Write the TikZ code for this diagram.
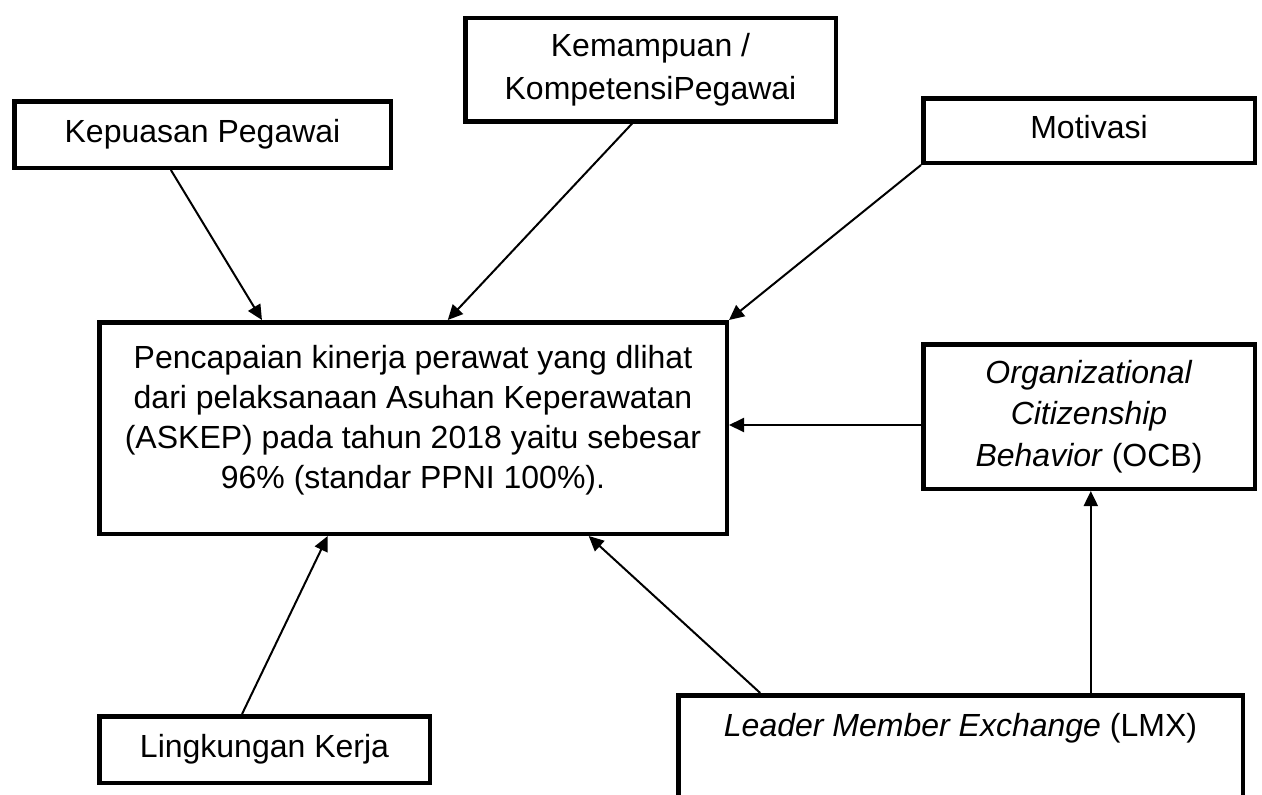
\documentclass[tikz,border=0pt]{standalone}
\usepackage{fontspec}
\setmainfont{Liberation Sans}
\usetikzlibrary{arrows.meta,calc}
\begin{document}
\begin{tikzpicture}[x=0.5pt,y=-0.5pt,
  box/.style={draw=black, line width=2.25pt, inner sep=0pt, align=center, font=\fontsize{16}{20}\selectfont},
  oneline/.style={text height=14pt, text depth=6pt},
  arr/.style={draw=black, line width=1pt, -{Triangle[length=7.5pt,width=7pt]}},
  lbl/.style={inner sep=0pt, align=center, font=\fontsize{16}{20}\selectfont}]
\useasboundingbox (0,0) rectangle (1262,794);
\clip (0,0) rectangle (1262,794);
\fill[white] (0,0) rectangle (1262,794);

\node[box, oneline, minimum width=188.25pt, minimum height=33.25pt] (kep) at (202.5,134.5) {Kepuasan Pegawai};
\node[box, minimum width=185.25pt, minimum height=51.75pt, font=\fontsize{16}{21.5}\selectfont] (kem) at (650.5,69.5) {Kemampuan /\\KompetensiPegawai};
\node[box, oneline, minimum width=165.75pt, minimum height=32.25pt] (mot) at (1089,130.5) {Motivasi};
\node[box, minimum width=313.75pt, minimum height=105.75pt] (main) at (413,428) {};
\node[lbl] (mainlbl) at (413,420) {Pencapaian kinerja perawat yang dlihat\\dari pelaksanaan Asuhan Keperawatan\\(ASKEP) pada tahun 2018 yaitu sebesar\\96\% (standar PPNI 100\%).};
\node[box, minimum width=165.75pt, minimum height=72.25pt, font=\fontsize{16}{20.75}\selectfont] (ocb) at (1089,416.5) {\textit{Organizational}\\\textit{Citizenship}\\\textit{Behavior} (OCB)};
\node[box, oneline, minimum width=165.25pt, minimum height=33.25pt] (lin) at (264.5,749.5) {Lingkungan Kerja};
\node[box, minimum width=282.25pt, minimum height=97.75pt] (lmx) at (960.5,793) {};
\node[lbl, anchor=base] (lmxlbl) at (960.5,736) {\textit{Leader Member Exchange} (LMX)};

\coordinate (kepS) at ($(kep.south west)!0.417!(kep.south east)$);
\coordinate (kemS) at ($(kem.south west)!0.451!(kem.south east)$);
\coordinate (mainN1) at ($(main.north west)!0.261!(main.north east)$);
\coordinate (mainN2) at ($(main.north west)!0.555!(main.north east)$);
\coordinate (mainS1) at ($(main.south west)!0.365!(main.south east)$);
\coordinate (mainS2) at ($(main.south west)!0.778!(main.south east)$);
\coordinate (ocbW) at ($(ocb.north west)!0.557!(ocb.south west)$);
\coordinate (linN) at ($(lin.north west)!0.433!(lin.north east)$);
\coordinate (lmxN1) at ($(lmx.north west)!0.148!(lmx.north east)$);
\coordinate (lmxN2) at ($(lmx.north west)!0.729!(lmx.north east)$);

\draw[arr] (kepS) -- (mainN1);
\draw[arr] (kemS) -- (mainN2);
\draw[arr] (mot.south west) -- (main.north east);
\draw[arr] (ocbW) -- (ocbW -| main.east);
\draw[arr] (lmxN2) -- (lmxN2 |- ocb.south);
\draw[arr] (lmxN1) -- (mainS2);
\draw[arr] (linN) -- (mainS1);
\end{tikzpicture}
\end{document}
